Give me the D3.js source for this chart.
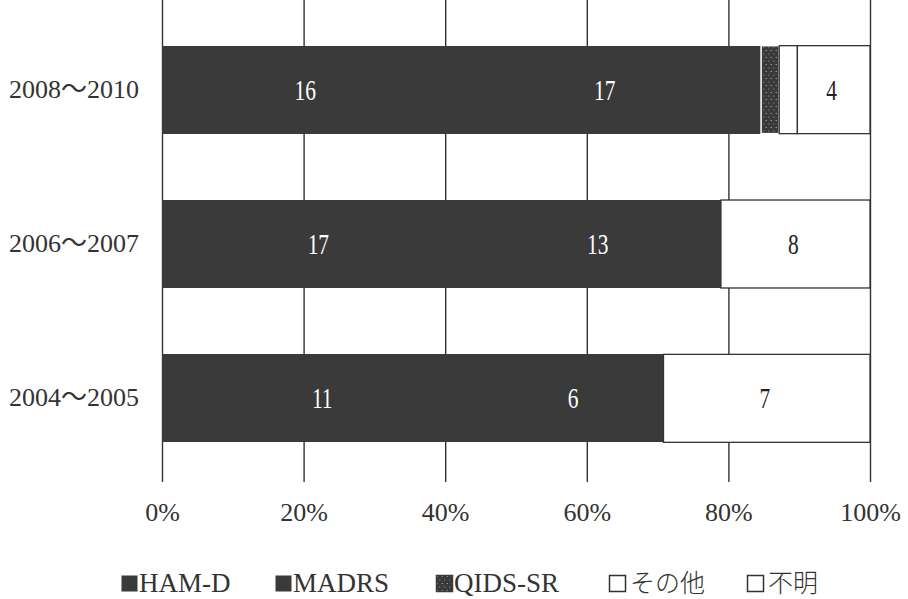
<!DOCTYPE html>
<html>
<head>
<meta charset="utf-8">
<script src="https://cdn.jsdelivr.net/npm/d3@7/dist/d3.min.js"></script>
<style>
  html, body { margin: 0; padding: 0; background: #fff; }
  svg { display: block; }
</style>
</head>
<body>
<svg id="chart" width="908" height="599"></svg>
<script>
// ---- data ----
const categories = ["2008〜2010", "2006〜2007", "2004〜2005"];
const seriesNames = ["HAM-D", "MADRS", "QIDS-SR", "その他", "不明"];
const hamD   = [16, 17, 11];
const madrs  = [17, 13, 6];
const qidsSR = [1, 0, 0];
const other  = [1, 0, 0];
const unknown = [4, 8, 7];
const tickValues = [0, 0.2, 0.4, 0.6, 0.8, 1.0];
const tickLabels = ["0%", "20%", "40%", "60%", "80%", "100%"];
const labeledSeries = ["HAM-D", "MADRS", "不明"];

const seriesValues = [hamD, madrs, qidsSR, other, unknown];
const rows = categories.map((c, i) => {
  const r = { cat: c };
  seriesNames.forEach((s, j) => r[s] = seriesValues[j][i]);
  return r;
});

const dark = "#3a3a3a";
const ink = "#333";
const serif = "'Liberation Serif', 'DejaVu Serif', 'Noto Sans CJK JP', serif";
const jp = "'Liberation Serif', 'Noto Sans CJK JP', serif";

const svg = d3.select("#chart");
const defs = svg.append("defs");
const pat = defs.append("pattern").attr("id", "qids").attr("patternUnits", "userSpaceOnUse")
  .attr("width", 5).attr("height", 7);
pat.append("rect").attr("width", 5).attr("height", 7).attr("fill", dark);
pat.append("circle").attr("cx", 1.2).attr("cy", 1.5).attr("r", 0.6).attr("fill", "#ccc");
pat.append("circle").attr("cx", 3.8).attr("cy", 5).attr("r", 0.5).attr("fill", "#aaa");

const fillFor = {
  "HAM-D": dark, "MADRS": dark, "QIDS-SR": "url(#qids)", "その他": "#fff", "不明": "#fff"
};
const strokeFor = {
  "HAM-D": "none", "MADRS": "none", "QIDS-SR": "#fff", "その他": ink, "不明": ink
};
const textFor = { "HAM-D": "#fff", "MADRS": "#fff", "不明": "#222" };

const x = d3.scaleLinear().domain([0, 1]).range([162, 870]);
const y = d3.scaleBand().domain(categories).range([4, 484]).paddingInner(0.43).paddingOuter(0.27);
const gridBottom = 482;

// gridlines (as axis ticks)
const xAxis = d3.axisBottom(x).tickValues(tickValues).tickSize(gridBottom).tickFormat((d, i) => tickLabels[i]);
const gx = svg.append("g").call(xAxis);
gx.select(".domain").remove();
gx.selectAll(".tick line").attr("stroke", ink).attr("stroke-width", 1.4);
gx.selectAll(".tick text")
  .attr("y", gridBottom + 39).attr("dy", null)
  .attr("font-family", serif).attr("font-size", 26).attr("fill", ink);

// stacked normalized
const stack = d3.stack().keys(seriesNames).offset(d3.stackOffsetExpand);
const layers = stack(rows);

const gBars = svg.append("g");
layers.forEach(layer => {
  const key = layer.key;
  gBars.selectAll(null).data(layer.filter(d => d[1] - d[0] > 0)).enter().append("rect")
    .attr("x", d => x(d[0]))
    .attr("y", d => y(d.data.cat))
    .attr("width", d => x(d[1]) - x(d[0]) + (key === "HAM-D" ? 1 : 0))
    .attr("height", y.bandwidth())
    .attr("fill", fillFor[key])
    .attr("stroke", strokeFor[key])
    .attr("shape-rendering", key === "HAM-D" || key === "MADRS" ? "crispEdges" : null)
    .attr("stroke-width", key === "QIDS-SR" ? 1.5 : 1.3);
});

// value labels
layers.filter(l => labeledSeries.includes(l.key)).forEach(layer => {
  gBars.selectAll(null).data(layer.filter(d => d[1] - d[0] > 0)).enter().append("text")
    .attr("transform", d => `translate(${(x(d[0]) + x(d[1])) / 2 - 2},${y(d.data.cat) + y.bandwidth() / 2 + 10}) scale(0.74,1)`)
    .attr("text-anchor", "middle")
    .attr("font-family", serif).attr("font-size", 29)
    .attr("fill", textFor[layer.key])
    .text(d => d.data[layer.key]);
});

// category labels
const yAxis = d3.axisLeft(y).tickSize(0).tickPadding(0);
const gy = svg.append("g").attr("transform", "translate(139,0)").call(yAxis);
gy.select(".domain").remove();
gy.selectAll(".tick text").attr("dy", "0.31em").attr("x", 0)
  .attr("font-family", jp).attr("font-size", 26).attr("fill", ink);

// legend
const legendX = [121, 275, 436, 609, 747];
const lg = svg.append("g");
seriesNames.forEach((s, i) => {
  const g = lg.append("g").attr("transform", `translate(${legendX[i]},575)`);
  g.append("rect").attr("x", 0.5).attr("y", 0.5).attr("width", 16).attr("height", 16)
    .attr("fill", s === "QIDS-SR" ? "url(#qids)" : fillFor[s])
    .attr("stroke", s === "QIDS-SR" ? dark : (fillFor[s] === "#fff" ? ink : "none"))
    .attr("stroke-width", 1.5);
  g.append("text").attr("x", /[A-Z]/.test(s) ? 18 : 21).attr("y", 17)
    .attr("font-family", /[A-Z]/.test(s) ? serif : "'Noto Sans CJK JP', sans-serif")
    .attr("font-weight", /[A-Z]/.test(s) ? 400 : 300)
    .attr("font-size", /[A-Z]/.test(s) ? 27 : 25)
    .attr("fill", ink).text(s);
});
</script>
</body>
</html>
